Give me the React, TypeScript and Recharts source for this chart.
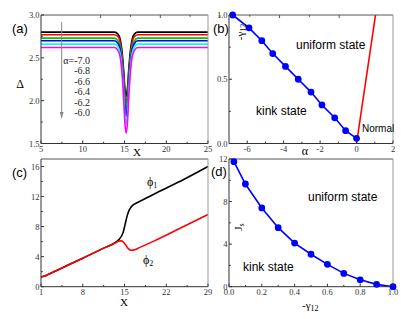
import React from "react";
import { LineChart, Line, XAxis, YAxis } from "recharts";

const W = 415;
const H = 319;
const serif = "Liberation Serif, Times New Roman, serif";
const sans = "Liberation Sans, Arial, sans-serif";
const sideColor = { bottom: "#333", left: "#333", top: "#555", right: "#999" };

// (a) gap profile for several alpha values
const gapX = [5, 13.8, 14.2, 14.5, 14.7, 14.9, 15.05, 15.2, 15.35, 15.5, 15.7, 15.9, 16.2, 16.6, 25];
const gapA70 = [2.8, 2.8, 2.78, 2.71, 2.58, 2.35, 2.14, 2.05, 2.14, 2.35, 2.58, 2.71, 2.78, 2.8, 2.8];
const gapA68 = [2.77, 2.77, 2.75, 2.67, 2.53, 2.29, 2.07, 1.97, 2.07, 2.29, 2.53, 2.67, 2.75, 2.77, 2.77];
const gapA66 = [2.73, 2.73, 2.7, 2.63, 2.48, 2.23, 2.0, 1.9, 2.0, 2.23, 2.48, 2.63, 2.7, 2.73, 2.73];
const gapA64 = [2.7, 2.7, 2.67, 2.59, 2.44, 2.17, 1.93, 1.82, 1.93, 2.17, 2.44, 2.59, 2.67, 2.7, 2.7];
const gapA62 = [2.66, 2.66, 2.63, 2.55, 2.38, 2.1, 1.83, 1.72, 1.83, 2.1, 2.38, 2.55, 2.63, 2.66, 2.66];
const gapA60 = [2.62, 2.62, 2.59, 2.5, 2.32, 2.02, 1.74, 1.62, 1.74, 2.02, 2.32, 2.5, 2.59, 2.62, 2.62];
const gapSeries = [gapA70, gapA68, gapA66, gapA64, gapA62, gapA60];
const gapColors = ["#000000", "#ff0000", "#00c800", "#0000ff", "#00ffff", "#ff00ff"];
const alphaLabels = ["α=-7.0", "-6.8", "-6.6", "-6.4", "-6.2", "-6.0"];

// (b) phase diagram alpha vs -gamma12
const kinkAlpha = [-6.8, -5.9, -5.2, -4.6, -3.9, -3.2, -2.5, -1.9, -1.2, -0.6, 0];
const kinkGamma = [1.0, 0.9, 0.8, 0.7, 0.6, 0.5, 0.4, 0.3, 0.2, 0.1, 0.04];
const normalAlpha = [0, 1.04];
const normalGamma = [0, 1.0];

// (c) phases
const phi1X = [1, 1.5, 2, 4, 8, 12, 13, 13.6, 14.1, 14.5, 14.8, 15.1, 15.4, 15.7, 16.0, 16.4, 17, 18, 20, 25, 29];
const phi1Y = [1.3, 1.38, 1.55, 2.3, 3.8, 5.3, 5.65, 5.95, 6.3, 6.75, 7.3, 8.3, 9.3, 10.05, 10.5, 10.85, 11.15, 11.55, 12.35, 14.3, 16.0];
const phi2X = [1, 1.5, 2, 4, 8, 12, 13, 13.6, 14.0, 14.4, 14.8, 15.2, 15.6, 15.9, 16.2, 16.6, 17.5, 20, 25, 29];
const phi2Y = [1.3, 1.38, 1.55, 2.3, 3.8, 5.3, 5.65, 5.9, 6.05, 6.1, 5.95, 5.55, 5.1, 4.9, 4.85, 4.9, 5.2, 6.1, 8.05, 9.6];

// (d) Js vs -gamma12
const jsGamma = [0.03, 0.1, 0.2, 0.3, 0.4, 0.5, 0.6, 0.7, 0.8, 0.9, 1.0];
const jsValue = [11.75, 9.65, 7.4, 5.55, 4.1, 3.05, 2.1, 1.25, 0.65, 0.22, 0];

const zip = (xs: number[], ys: number[]) => xs.map((x, i) => ({ x, y: ys[i] }));

const gapRows = gapX.map((x, i) => {
  const row: Record<string, number> = { x };
  gapSeries.forEach((s, k) => (row["s" + k] = s[i]));
  return row;
});

type Side = "bottom" | "top" | "left" | "right";

const makeTick = (side: Side, majors: number[], fmt?: (v: number) => string) => (props: any) => {
  const { x, y, payload } = props;
  const v = payload.value;
  const major = majors.some((m) => Math.abs(m - v) < 1e-9);
  const len = major ? 3 : 1.8;
  let x2 = x;
  let y2 = y;
  if (side === "bottom") y2 = y - len;
  if (side === "top") y2 = y + len;
  if (side === "left") x2 = x + len;
  if (side === "right") x2 = x - len;
  return (
    <g>
      <line x1={x} y1={y} x2={x2} y2={y2} stroke={sideColor[side]} strokeWidth={1} />
      {major && fmt && side === "bottom" && (
        <text x={x} y={y + 8} textAnchor="middle" fontFamily={serif} fontSize={8.5} fill="#333">
          {fmt(v)}
        </text>
      )}
      {major && fmt && side === "left" && (
        <text x={x - 1.5} y={y + 3} textAnchor="end" fontFamily={serif} fontSize={8.5} fill="#333">
          {fmt(v)}
        </text>
      )}
    </g>
  );
};

// axes are 1px thick so their lines sit exactly on the plot edges
function frameAxes(
  xDom: [number, number],
  yDom: [number, number],
  xMaj: number[],
  xMin: number[],
  yMaj: number[],
  yMin: number[],
  xFmt: (v: number) => string,
  yFmt: (v: number) => string
) {
  const xt = [...xMaj, ...xMin].sort((a, b) => a - b);
  const yt = [...yMaj, ...yMin].sort((a, b) => a - b);
  const line = (s: Side) => ({ stroke: sideColor[s], strokeWidth: 1 });
  return [
    <XAxis key="xb" xAxisId={0} type="number" dataKey="x" domain={xDom} ticks={xt} interval={0}
      height={1} tickSize={0} tickMargin={0} tickLine={false} axisLine={line("bottom")} tick={makeTick("bottom", xMaj, xFmt)} />,
    <XAxis key="xt" xAxisId="top" orientation="top" type="number" domain={xDom} ticks={xt} interval={0}
      height={1} tickSize={0} tickMargin={0} tickLine={false} axisLine={line("top")} tick={makeTick("top", xMaj)} />,
    <YAxis key="yl" yAxisId={0} type="number" domain={yDom} ticks={yt} interval={0}
      width={1} tickSize={0} tickMargin={0} tickLine={false} axisLine={line("left")} tick={makeTick("left", yMaj, yFmt)} />,
    <YAxis key="yr" yAxisId="right" orientation="right" type="number" domain={yDom} ticks={yt} interval={0}
      width={1} tickSize={0} tickMargin={0} tickLine={false} axisLine={line("right")} tick={makeTick("right", yMaj)} />,
  ];
}

const fix1 = (v: number) => v.toFixed(1);
const plain = (v: number) => String(v);

const layer: React.CSSProperties = { position: "absolute", left: 0, top: 0 };

const box = (l: number, t: number, r: number, b: number) => ({
  top: t - 1,
  left: l - 1,
  right: W - r - 1,
  bottom: H - b - 1,
});

export default function App() {
  const mA = box(41, 15, 208, 143.5);
  const mB = box(229, 15, 393, 143.5);
  const mC = box(41, 159, 208, 286.7);
  const mD = box(229, 159, 393, 286.7);

  return (
    <div style={{ position: "absolute", left: 0, top: 0, width: W, height: H, background: "#fff" }}>
      <div style={layer}>
        <LineChart width={W} height={H} data={gapRows} margin={mA}>
          {frameAxes([5, 25], [1.5, 3], [5, 10, 15, 20, 25], [7.5, 12.5, 17.5, 22.5],
            [1.5, 2, 2.5, 3], [1.75, 2.25, 2.75], plain, fix1)}
          {gapSeries.map((_, k) => (
            <Line key={k} type="monotone" dataKey={"s" + k} stroke={gapColors[k]} strokeWidth={1.6}
              dot={false} isAnimationActive={false} />
          ))}
        </LineChart>
      </div>

      <div style={layer}>
        <LineChart width={W} height={H} margin={mB}>
          {frameAxes([-7, 2], [0, 1], [-6, -4, -2, 0, 2], [-5, -3, -1, 1],
            [0, 0.5, 1], [0.25, 0.75], plain, fix1)}
          <Line data={zip(normalAlpha, normalGamma)} type="linear" dataKey="y" stroke="#ff0000"
            strokeWidth={1.6} dot={false} isAnimationActive={false} />
          <Line data={zip(kinkAlpha, kinkGamma)} type="linear" dataKey="y" stroke="#0000ff"
            strokeWidth={1.6} dot={{ r: 2.6, fill: "#0000ff", stroke: "#0000ff" }} isAnimationActive={false} />
        </LineChart>
      </div>

      <div style={layer}>
        <LineChart width={W} height={H} margin={mC}>
          {frameAxes([1, 29], [0, 17], [1, 8, 15, 22, 29], [4.5, 11.5, 18.5, 25.5],
            [0, 4, 8, 12, 16], [2, 6, 10, 14], plain, plain)}
          <Line data={zip(phi1X, phi1Y)} type="monotone" dataKey="y" stroke="#000000"
            strokeWidth={1.6} dot={false} isAnimationActive={false} />
          <Line data={zip(phi2X, phi2Y)} type="monotone" dataKey="y" stroke="#ff0000"
            strokeWidth={1.6} dot={false} isAnimationActive={false} />
        </LineChart>
      </div>

      <div style={layer}>
        <LineChart width={W} height={H} margin={mD}>
          {frameAxes([0, 1], [0, 12], [0, 0.2, 0.4, 0.6, 0.8, 1], [0.1, 0.3, 0.5, 0.7, 0.9],
            [0, 4, 8, 12], [2, 6, 10], fix1, plain)}
          <Line data={zip(jsGamma, jsValue)} type="linear" dataKey="y" stroke="#0000ff"
            strokeWidth={1.6} dot={{ r: 2.6, fill: "#0000ff", stroke: "#0000ff" }} isAnimationActive={false} />
        </LineChart>
      </div>

      <svg width={W} height={H} style={{ ...layer, pointerEvents: "none" }}>
        {/* panel (a) */}
        <text x={12} y={33} fontFamily={sans} fontSize={13}>(a)</text>
        <text x={20} y={88} textAnchor="middle" fontFamily={serif} fontSize={12}>Δ</text>
        <text x={137} y={156} textAnchor="middle" fontFamily={serif} fontSize={11}>X</text>
        <line x1={61.7} y1={22} x2={61.7} y2={116} stroke="#888" strokeWidth={1} />
        <polygon points="59.8,112 63.6,112 61.7,119" fill="#888" />
        {alphaLabels.map((t, i) => (
          <text key={t} x={90} y={63.5 + i * 10.5} textAnchor="end" fontFamily={serif} fontSize={10} fill="#222">
            {t}
          </text>
        ))}

        {/* panel (b) */}
        <text x={213} y={33} fontFamily={sans} fontSize={13}>(b)</text>
        <text x={296} y={49} fontFamily={sans} fontSize={12}>uniform state</text>
        <text x={256} y={115} fontFamily={sans} fontSize={12}>kink state</text>
        <text x={362} y={131.5} fontFamily={sans} fontSize={10}>Normal</text>
        <text x={305} y={155} textAnchor="middle" fontFamily={serif} fontSize={12}>α</text>
        <text x={241} y={35} textAnchor="middle" fontFamily={serif} fontSize={11} transform="rotate(-90 241 32)">
          -γ<tspan fontSize={8} dy={2}>12</tspan>
        </text>

        {/* panel (c) */}
        <text x={12} y={177} fontFamily={sans} fontSize={13}>(c)</text>
        <text x={147} y={186} fontFamily={serif} fontSize={12}>
          ϕ<tspan fontSize={8} dy={2}>1</tspan>
        </text>
        <text x={143} y={264} fontFamily={serif} fontSize={12}>
          ϕ<tspan fontSize={8} dy={2}>2</tspan>
        </text>
        <text x={124} y={305.5} textAnchor="middle" fontFamily={serif} fontSize={11}>X</text>

        {/* panel (d) */}
        <text x={211} y={176} fontFamily={sans} fontSize={13}>(d)</text>
        <text x={308} y={201} fontFamily={sans} fontSize={12}>uniform state</text>
        <text x={243} y={271} fontFamily={sans} fontSize={12}>kink state</text>
        <text x={238} y={231} textAnchor="middle" fontFamily={serif} fontSize={11} transform="rotate(-90 238 227)">
          J<tspan fontSize={8} dy={2}>s</tspan>
        </text>
        <text x={302} y={309} fontFamily={serif} fontSize={11}>
          -γ<tspan fontSize={8} dy={2}>12</tspan>
        </text>
      </svg>
    </div>
  );
}
